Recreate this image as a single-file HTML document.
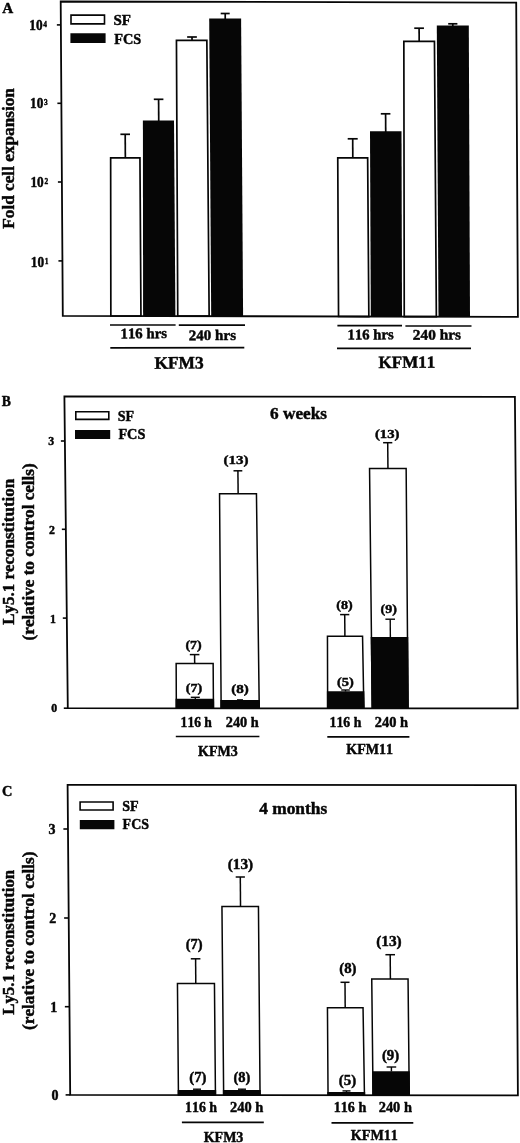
<!DOCTYPE html>
<html lang="en">
<head>
<meta charset="utf-8">
<title>Figure: fold cell expansion and Ly5.1 reconstitution</title>
<style>
html,body{margin:0;padding:0;background:#fff;}
body{width:520px;height:1143px;overflow:hidden;}
svg{display:block;}
svg text{font-kerning:none;stroke:#060606;stroke-width:.45px;stroke-linejoin:round;}
</style>
</head>
<body>
<svg width="520" height="1143" viewBox="0 0 520 1143" font-family='"Liberation Serif", "DejaVu Serif", serif' fill="#060606">
<rect x="0" y="0" width="520" height="1143" fill="#fff"/>
<line x1="125.2" y1="134.3" x2="125.35" y2="158" stroke="#060606" stroke-width="1.7" stroke-linecap="butt"/>
<line x1="120.4" y1="134.3" x2="130" y2="134.3" stroke="#060606" stroke-width="1.7" stroke-linecap="butt"/>
<line x1="158.6" y1="99.3" x2="158.74" y2="121" stroke="#060606" stroke-width="1.7" stroke-linecap="butt"/>
<line x1="153.8" y1="99.3" x2="163.4" y2="99.3" stroke="#060606" stroke-width="1.7" stroke-linecap="butt"/>
<line x1="192" y1="37" x2="192.02" y2="40.5" stroke="#060606" stroke-width="1.7" stroke-linecap="butt"/>
<line x1="187.15" y1="37" x2="196.85" y2="37" stroke="#060606" stroke-width="1.7" stroke-linecap="butt"/>
<line x1="225.2" y1="13.5" x2="225.23" y2="19" stroke="#060606" stroke-width="1.7" stroke-linecap="butt"/>
<line x1="220.7" y1="13.5" x2="229.7" y2="13.5" stroke="#060606" stroke-width="1.7" stroke-linecap="butt"/>
<line x1="352.7" y1="138.8" x2="352.81" y2="158" stroke="#060606" stroke-width="1.7" stroke-linecap="butt"/>
<line x1="347.7" y1="138.8" x2="357.7" y2="138.8" stroke="#060606" stroke-width="1.7" stroke-linecap="butt"/>
<line x1="385.6" y1="113.8" x2="385.71" y2="132" stroke="#060606" stroke-width="1.7" stroke-linecap="butt"/>
<line x1="380.8" y1="113.8" x2="390.4" y2="113.8" stroke="#060606" stroke-width="1.7" stroke-linecap="butt"/>
<line x1="419.1" y1="28.2" x2="419.18" y2="41.5" stroke="#060606" stroke-width="1.7" stroke-linecap="butt"/>
<line x1="414.25" y1="28.2" x2="423.95" y2="28.2" stroke="#060606" stroke-width="1.7" stroke-linecap="butt"/>
<line x1="452.8" y1="23.8" x2="452.81" y2="26" stroke="#060606" stroke-width="1.7" stroke-linecap="butt"/>
<line x1="448.2" y1="23.8" x2="457.4" y2="23.8" stroke="#060606" stroke-width="1.7" stroke-linecap="butt"/>
<polygon points="110.65,157.85 139.95,157.85 140.95,315.99 110.85,315.91" fill="#fff" stroke="#060606" stroke-width="1.7" stroke-linejoin="miter"/>
<polygon points="142.9,120.4 174,120.4 175.4,316.07 143.1,315.99" fill="#060606" stroke="none" stroke-width="0" stroke-linejoin="miter"/>
<polygon points="176.45,40.45 206.85,40.45 209.15,316.16 177.75,316.08" fill="#fff" stroke="#060606" stroke-width="1.7" stroke-linejoin="miter"/>
<polygon points="209.2,18.5 241.1,18.5 243.1,316.24 211.2,316.16" fill="#060606" stroke="none" stroke-width="0" stroke-linejoin="miter"/>
<polygon points="337.75,157.85 367.65,157.85 368.85,316.54 338.55,316.46" fill="#fff" stroke="#060606" stroke-width="1.7" stroke-linejoin="miter"/>
<polygon points="370,131.2 401.5,131.2 402,316.62 370.8,316.54" fill="#060606" stroke="none" stroke-width="0" stroke-linejoin="miter"/>
<polygon points="403.85,41.35 434.45,41.35 436.35,316.7 404.25,316.62" fill="#fff" stroke="#060606" stroke-width="1.7" stroke-linejoin="miter"/>
<polygon points="436.8,25.4 468.8,25.4 470,316.78 438.5,316.71" fill="#060606" stroke="none" stroke-width="0" stroke-linejoin="miter"/>
<polygon points="60.7,1.5 516.2,2.6 517.9,316.9 62.8,315.8" fill="none" stroke="#060606" stroke-width="1.8" stroke-linejoin="miter"/>
<line x1="56.86" y1="24.9" x2="60.86" y2="24.9" stroke="#060606" stroke-width="1.6" stroke-linecap="butt"/>
<line x1="57.38" y1="103.3" x2="61.38" y2="103.3" stroke="#060606" stroke-width="1.6" stroke-linecap="butt"/>
<line x1="57.91" y1="182" x2="61.91" y2="182" stroke="#060606" stroke-width="1.6" stroke-linecap="butt"/>
<line x1="58.43" y1="260.9" x2="62.43" y2="260.9" stroke="#060606" stroke-width="1.6" stroke-linecap="butt"/>
<text x="29.3" y="29.9" font-size="14" font-weight="bold" text-anchor="start" textLength="13.3" lengthAdjust="spacingAndGlyphs">10</text>
<text x="43.3" y="26.9" font-size="8.6" font-weight="bold" text-anchor="start" textLength="3.7" lengthAdjust="spacingAndGlyphs">4</text>
<text x="30" y="108.4" font-size="14" font-weight="bold" text-anchor="start" textLength="13.3" lengthAdjust="spacingAndGlyphs">10</text>
<text x="44" y="105.4" font-size="8.6" font-weight="bold" text-anchor="start" textLength="3.7" lengthAdjust="spacingAndGlyphs">3</text>
<text x="30.4" y="187.4" font-size="14" font-weight="bold" text-anchor="start" textLength="13.3" lengthAdjust="spacingAndGlyphs">10</text>
<text x="44.4" y="184.4" font-size="8.6" font-weight="bold" text-anchor="start" textLength="3.7" lengthAdjust="spacingAndGlyphs">2</text>
<text x="30.8" y="266.5" font-size="14" font-weight="bold" text-anchor="start" textLength="13.3" lengthAdjust="spacingAndGlyphs">10</text>
<text x="44.8" y="263.5" font-size="8.6" font-weight="bold" text-anchor="start" textLength="3.7" lengthAdjust="spacingAndGlyphs">1</text>
<polygon points="71,15.1 104.5,15.1 104.5,23.9 71,23.9" fill="#fff" stroke="#060606" stroke-width="1.6" stroke-linejoin="miter"/>
<polygon points="70.4,33.3 105.6,33.3 105.6,43.1 70.4,43.1" fill="#060606" stroke="none" stroke-width="0" stroke-linejoin="miter"/>
<text x="113.4" y="24.8" font-size="15" font-weight="bold" text-anchor="start" textLength="17.5" lengthAdjust="spacingAndGlyphs" transform="rotate(0 113.4 24.8)">SF</text>
<text x="114.2" y="43.5" font-size="15" font-weight="bold" text-anchor="start" textLength="27.1" lengthAdjust="spacingAndGlyphs" transform="rotate(0 114.2 43.5)">FCS</text>
<text x="2.3" y="12.6" font-size="15.2" font-weight="bold" text-anchor="start">A</text>
<text x="14.3" y="228.7" font-size="17.2" font-weight="bold" text-anchor="start" textLength="140.6" lengthAdjust="spacingAndGlyphs" transform="rotate(-90 14.3 228.7)">Fold cell expansion</text>
<line x1="110" y1="325" x2="175.6" y2="325" stroke="#060606" stroke-width="1.7" stroke-linecap="butt"/>
<line x1="178.8" y1="325.2" x2="245" y2="325.2" stroke="#060606" stroke-width="1.7" stroke-linecap="butt"/>
<text x="120.6" y="338.4" font-size="14.8" font-weight="bold" text-anchor="start" textLength="46.4" lengthAdjust="spacingAndGlyphs" transform="rotate(-0.4 120.6 338.4)">116 hrs</text>
<text x="188.8" y="340.2" font-size="14.8" font-weight="bold" text-anchor="start" textLength="47.2" lengthAdjust="spacingAndGlyphs" transform="rotate(-0.4 188.8 340.2)">240 hrs</text>
<line x1="110.3" y1="347.9" x2="244.3" y2="347.7" stroke="#060606" stroke-width="1.7" stroke-linecap="butt"/>
<text x="154.4" y="368.7" font-size="17.4" font-weight="bold" text-anchor="start" textLength="49.4" lengthAdjust="spacingAndGlyphs" transform="rotate(-0.4 154.4 368.7)">KFM3</text>
<line x1="337.4" y1="325.6" x2="402" y2="325.6" stroke="#060606" stroke-width="1.7" stroke-linecap="butt"/>
<line x1="405.4" y1="326" x2="471.5" y2="326" stroke="#060606" stroke-width="1.7" stroke-linecap="butt"/>
<text x="347.6" y="339.6" font-size="14.8" font-weight="bold" text-anchor="start" textLength="46" lengthAdjust="spacingAndGlyphs" transform="rotate(-0.4 347.6 339.6)">116 hrs</text>
<text x="412.8" y="339.8" font-size="14.8" font-weight="bold" text-anchor="start" textLength="48.2" lengthAdjust="spacingAndGlyphs" transform="rotate(-0.4 412.8 339.8)">240 hrs</text>
<line x1="337" y1="348.4" x2="471" y2="348.4" stroke="#060606" stroke-width="1.7" stroke-linecap="butt"/>
<text x="378.5" y="368" font-size="17.2" font-weight="bold" text-anchor="start" textLength="56.7" lengthAdjust="spacingAndGlyphs" transform="rotate(-0.4 378.5 368)">KFM11</text>
<line x1="194.6" y1="654.6" x2="194.69" y2="663.5" stroke="#060606" stroke-width="1.5" stroke-linecap="butt"/>
<line x1="189.8" y1="654.6" x2="199.4" y2="654.6" stroke="#060606" stroke-width="1.5" stroke-linecap="butt"/>
<line x1="237.9" y1="470.8" x2="238.14" y2="494" stroke="#060606" stroke-width="1.5" stroke-linecap="butt"/>
<line x1="233.5" y1="470.8" x2="242.3" y2="470.8" stroke="#060606" stroke-width="1.5" stroke-linecap="butt"/>
<line x1="344.7" y1="614.6" x2="344.91" y2="636.2" stroke="#060606" stroke-width="1.5" stroke-linecap="butt"/>
<line x1="340.1" y1="614.6" x2="349.3" y2="614.6" stroke="#060606" stroke-width="1.5" stroke-linecap="butt"/>
<line x1="387.7" y1="442.7" x2="387.95" y2="468.5" stroke="#060606" stroke-width="1.5" stroke-linecap="butt"/>
<line x1="383.1" y1="442.7" x2="392.3" y2="442.7" stroke="#060606" stroke-width="1.5" stroke-linecap="butt"/>
<polygon points="176.15,663.45 213.15,663.45 213.45,708.27 176.35,708.25" fill="#fff" stroke="#060606" stroke-width="1.5" stroke-linejoin="miter"/>
<polygon points="175.56,698.7 214.14,698.7 214.2,708.27 175.6,708.25" fill="#060606" stroke="none" stroke-width="0" stroke-linejoin="miter"/>
<polygon points="219.55,493.85 256.45,493.85 259.25,708.29 221.15,708.27" fill="#fff" stroke="#060606" stroke-width="1.5" stroke-linejoin="miter"/>
<polygon points="220.34,700 259.89,700 260,708.29 220.4,708.27" fill="#060606" stroke="none" stroke-width="0" stroke-linejoin="miter"/>
<polygon points="327.45,636.15 362.55,636.15 363.85,708.33 327.65,708.32" fill="#fff" stroke="#060606" stroke-width="1.5" stroke-linejoin="miter"/>
<polygon points="326.85,691.3 364.3,691.3 364.6,708.33 326.9,708.32" fill="#060606" stroke="none" stroke-width="0" stroke-linejoin="miter"/>
<polygon points="369.55,468.45 406.15,468.45 408.05,708.35 372.25,708.34" fill="#fff" stroke="#060606" stroke-width="1.5" stroke-linejoin="miter"/>
<polygon points="370.7,636.9 408.24,636.9 408.8,708.35 371.5,708.34" fill="#060606" stroke="none" stroke-width="0" stroke-linejoin="miter"/>
<line x1="195.3" y1="697.3" x2="195.32" y2="699" stroke="#060606" stroke-width="1.4" stroke-linecap="butt"/>
<line x1="190.8" y1="697.3" x2="199.8" y2="697.3" stroke="#060606" stroke-width="1.4" stroke-linecap="butt"/>
<line x1="240" y1="699.9" x2="240" y2="700.3" stroke="#060606" stroke-width="1.4" stroke-linecap="butt"/>
<line x1="237" y1="699.9" x2="243" y2="699.9" stroke="#060606" stroke-width="1.4" stroke-linecap="butt"/>
<line x1="345.5" y1="690" x2="345.52" y2="691.6" stroke="#060606" stroke-width="1.4" stroke-linecap="butt"/>
<line x1="341.2" y1="690" x2="349.8" y2="690" stroke="#060606" stroke-width="1.4" stroke-linecap="butt"/>
<line x1="390.2" y1="619.2" x2="390.37" y2="637.2" stroke="#060606" stroke-width="1.4" stroke-linecap="butt"/>
<line x1="385.4" y1="619.2" x2="395" y2="619.2" stroke="#060606" stroke-width="1.4" stroke-linecap="butt"/>
<polygon points="64.4,396.4 514.9,396.8 517.7,708.4 67.8,708.2" fill="none" stroke="#060606" stroke-width="1.8" stroke-linejoin="miter"/>
<line x1="60.89" y1="441" x2="64.89" y2="441" stroke="#060606" stroke-width="1.6" stroke-linecap="butt"/>
<text x="51.2" y="444.9" font-size="11.8" font-weight="bold" text-anchor="middle">3</text>
<line x1="61.85" y1="529.3" x2="65.85" y2="529.3" stroke="#060606" stroke-width="1.6" stroke-linecap="butt"/>
<text x="51.9" y="534.1" font-size="11.8" font-weight="bold" text-anchor="middle">2</text>
<line x1="62.82" y1="618.1" x2="66.82" y2="618.1" stroke="#060606" stroke-width="1.6" stroke-linecap="butt"/>
<text x="52.9" y="622.7" font-size="11.8" font-weight="bold" text-anchor="middle">1</text>
<line x1="63.8" y1="708.2" x2="67.8" y2="708.2" stroke="#060606" stroke-width="1.6" stroke-linecap="butt"/>
<text x="54.2" y="712.1" font-size="11.8" font-weight="bold" text-anchor="middle">0</text>
<polygon points="75.8,411.8 108.8,411.8 108.8,419.4 75.8,419.4" fill="#fff" stroke="#060606" stroke-width="1.6" stroke-linejoin="miter"/>
<polygon points="75,429.9 110.2,429.9 110.2,439.1 75,439.1" fill="#060606" stroke="none" stroke-width="0" stroke-linejoin="miter"/>
<text x="117.8" y="420.7" font-size="14.6" font-weight="bold" text-anchor="start" textLength="16.4" lengthAdjust="spacingAndGlyphs" transform="rotate(0 117.8 420.7)">SF</text>
<text x="118.4" y="439" font-size="14.6" font-weight="bold" text-anchor="start" textLength="27" lengthAdjust="spacingAndGlyphs" transform="rotate(0 118.4 439)">FCS</text>
<text x="1.7" y="406.2" font-size="14.8" font-weight="bold" text-anchor="start" textLength="9.1" lengthAdjust="spacingAndGlyphs">B</text>
<text x="270" y="418.8" font-size="17.2" font-weight="bold" text-anchor="start" textLength="57" lengthAdjust="spacingAndGlyphs" transform="rotate(0 270 418.8)">6 weeks</text>
<text x="13.8" y="624.8" font-size="16.6" font-weight="bold" text-anchor="start" textLength="146" lengthAdjust="spacingAndGlyphs" transform="rotate(-90 13.8 624.8)">Ly5.1 reconstitution</text>
<text x="34.3" y="640.4" font-size="16.6" font-weight="bold" text-anchor="start" textLength="177.1" lengthAdjust="spacingAndGlyphs" transform="rotate(-90 34.3 640.4)">(relative to control cells)</text>
<text x="185.4" y="649" font-size="13.2" font-weight="bold" text-anchor="start" textLength="16.3" lengthAdjust="spacingAndGlyphs" transform="rotate(0 185.4 649)">(7)</text>
<text x="185.8" y="692.3" font-size="13.2" font-weight="bold" text-anchor="start" textLength="16.5" lengthAdjust="spacingAndGlyphs" transform="rotate(0 185.8 692.3)">(7)</text>
<text x="231.2" y="692.9" font-size="13.2" font-weight="bold" text-anchor="start" textLength="17.6" lengthAdjust="spacingAndGlyphs" transform="rotate(0 231.2 692.9)">(8)</text>
<text x="223.4" y="464" font-size="13.2" font-weight="bold" text-anchor="start" textLength="25.1" lengthAdjust="spacingAndGlyphs" transform="rotate(0 223.4 464)">(13)</text>
<text x="336.3" y="609.3" font-size="13.2" font-weight="bold" text-anchor="start" textLength="16.4" lengthAdjust="spacingAndGlyphs" transform="rotate(0 336.3 609.3)">(8)</text>
<text x="336.9" y="686.2" font-size="13.2" font-weight="bold" text-anchor="start" textLength="16.8" lengthAdjust="spacingAndGlyphs" transform="rotate(0 336.9 686.2)">(5)</text>
<text x="380.6" y="613.2" font-size="13.2" font-weight="bold" text-anchor="start" textLength="16.4" lengthAdjust="spacingAndGlyphs" transform="rotate(0 380.6 613.2)">(9)</text>
<text x="374.9" y="438.4" font-size="13.2" font-weight="bold" text-anchor="start" textLength="24.6" lengthAdjust="spacingAndGlyphs" transform="rotate(0 374.9 438.4)">(13)</text>
<text x="180.6" y="726.9" font-size="14.4" font-weight="bold" text-anchor="start" textLength="31.3" lengthAdjust="spacingAndGlyphs" transform="rotate(0 180.6 726.9)">116 h</text>
<text x="225.8" y="726.9" font-size="14.4" font-weight="bold" text-anchor="start" textLength="33" lengthAdjust="spacingAndGlyphs" transform="rotate(0 225.8 726.9)">240 h</text>
<line x1="175.8" y1="736.5" x2="259.4" y2="736.5" stroke="#060606" stroke-width="1.7" stroke-linecap="butt"/>
<text x="198.1" y="756.3" font-size="14.5" font-weight="bold" text-anchor="start" textLength="39.8" lengthAdjust="spacingAndGlyphs" transform="rotate(0 198.1 756.3)">KFM3</text>
<text x="329.6" y="726.9" font-size="14.4" font-weight="bold" text-anchor="start" textLength="31.7" lengthAdjust="spacingAndGlyphs" transform="rotate(0 329.6 726.9)">116 h</text>
<text x="374.8" y="726.9" font-size="14.4" font-weight="bold" text-anchor="start" textLength="33.3" lengthAdjust="spacingAndGlyphs" transform="rotate(0 374.8 726.9)">240 h</text>
<line x1="327.3" y1="736.9" x2="409.4" y2="736.9" stroke="#060606" stroke-width="1.7" stroke-linecap="butt"/>
<text x="346.3" y="753.6" font-size="14.5" font-weight="bold" text-anchor="start" textLength="46.8" lengthAdjust="spacingAndGlyphs" transform="rotate(0 346.3 753.6)">KFM11</text>
<line x1="195.6" y1="958.8" x2="195.8" y2="983.5" stroke="#060606" stroke-width="1.5" stroke-linecap="butt"/>
<line x1="190.8" y1="958.8" x2="200.4" y2="958.8" stroke="#060606" stroke-width="1.5" stroke-linecap="butt"/>
<line x1="240.3" y1="877" x2="240.53" y2="906.5" stroke="#060606" stroke-width="1.5" stroke-linecap="butt"/>
<line x1="235.7" y1="877" x2="244.9" y2="877" stroke="#060606" stroke-width="1.5" stroke-linecap="butt"/>
<line x1="345" y1="982.3" x2="345.19" y2="1008" stroke="#060606" stroke-width="1.5" stroke-linecap="butt"/>
<line x1="340.5" y1="982.3" x2="349.5" y2="982.3" stroke="#060606" stroke-width="1.5" stroke-linecap="butt"/>
<line x1="390.2" y1="954.7" x2="390.38" y2="979" stroke="#060606" stroke-width="1.5" stroke-linecap="butt"/>
<line x1="385.4" y1="954.7" x2="395" y2="954.7" stroke="#060606" stroke-width="1.5" stroke-linecap="butt"/>
<polygon points="177.45,983.45 214.45,983.45 215.45,1095.06 178.45,1095.02" fill="#fff" stroke="#060606" stroke-width="1.5" stroke-linejoin="miter"/>
<polygon points="177.66,1090 216.16,1090 216.2,1095.06 177.7,1095.02" fill="#060606" stroke="none" stroke-width="0" stroke-linejoin="miter"/>
<polygon points="221.95,906.45 258.45,906.45 260.05,1095.11 223.65,1095.07" fill="#fff" stroke="#060606" stroke-width="1.5" stroke-linejoin="miter"/>
<polygon points="222.85,1090 260.76,1090 260.8,1095.11 222.9,1095.07" fill="#060606" stroke="none" stroke-width="0" stroke-linejoin="miter"/>
<polygon points="327.45,1007.85 363.05,1007.85 364.45,1095.23 328.05,1095.19" fill="#fff" stroke="#060606" stroke-width="1.5" stroke-linejoin="miter"/>
<polygon points="327.28,1091.9 365.15,1091.9 365.2,1095.23 327.3,1095.19" fill="#060606" stroke="none" stroke-width="0" stroke-linejoin="miter"/>
<polygon points="371.75,979.05 408.05,979.05 409.25,1095.28 373.05,1095.24" fill="#fff" stroke="#060606" stroke-width="1.5" stroke-linejoin="miter"/>
<polygon points="372.03,1071.3 409.75,1071.3 410,1095.28 372.3,1095.24" fill="#060606" stroke="none" stroke-width="0" stroke-linejoin="miter"/>
<line x1="197" y1="1089.2" x2="197.01" y2="1090.2" stroke="#060606" stroke-width="1.4" stroke-linecap="butt"/>
<line x1="193" y1="1089.2" x2="201" y2="1089.2" stroke="#060606" stroke-width="1.4" stroke-linecap="butt"/>
<line x1="242" y1="1089.2" x2="242.01" y2="1090.2" stroke="#060606" stroke-width="1.4" stroke-linecap="butt"/>
<line x1="238" y1="1089.2" x2="246" y2="1089.2" stroke="#060606" stroke-width="1.4" stroke-linecap="butt"/>
<line x1="346.5" y1="1090.9" x2="346.51" y2="1092" stroke="#060606" stroke-width="1.4" stroke-linecap="butt"/>
<line x1="342.5" y1="1090.9" x2="350.5" y2="1090.9" stroke="#060606" stroke-width="1.4" stroke-linecap="butt"/>
<line x1="391.4" y1="1067" x2="391.43" y2="1071.6" stroke="#060606" stroke-width="1.4" stroke-linecap="butt"/>
<line x1="386.6" y1="1067" x2="396.2" y2="1067" stroke="#060606" stroke-width="1.4" stroke-linecap="butt"/>
<polygon points="67.6,784.8 515.8,785.2 517.9,1095.4 70.2,1094.9" fill="none" stroke="#060606" stroke-width="1.8" stroke-linejoin="miter"/>
<line x1="63.37" y1="829" x2="67.97" y2="829" stroke="#060606" stroke-width="1.6" stroke-linecap="butt"/>
<text x="52" y="833.8" font-size="14" font-weight="bold" text-anchor="middle">3</text>
<line x1="64.12" y1="918" x2="68.72" y2="918" stroke="#060606" stroke-width="1.6" stroke-linecap="butt"/>
<text x="52.8" y="922.7" font-size="14" font-weight="bold" text-anchor="middle">2</text>
<line x1="64.86" y1="1006.7" x2="69.46" y2="1006.7" stroke="#060606" stroke-width="1.6" stroke-linecap="butt"/>
<text x="53.8" y="1012.2" font-size="14" font-weight="bold" text-anchor="middle">1</text>
<line x1="65.6" y1="1094.9" x2="70.2" y2="1094.9" stroke="#060606" stroke-width="1.6" stroke-linecap="butt"/>
<text x="54.9" y="1099.9" font-size="14" font-weight="bold" text-anchor="middle">0</text>
<polygon points="80.1,802 113.1,802 113.1,810 80.1,810" fill="#fff" stroke="#060606" stroke-width="1.6" stroke-linejoin="miter"/>
<polygon points="79.8,819.9 114.4,819.9 114.4,829.3 79.8,829.3" fill="#060606" stroke="none" stroke-width="0" stroke-linejoin="miter"/>
<text x="122.2" y="811" font-size="14.6" font-weight="bold" text-anchor="start" textLength="16.4" lengthAdjust="spacingAndGlyphs" transform="rotate(0 122.2 811)">SF</text>
<text x="122.6" y="829.3" font-size="14.6" font-weight="bold" text-anchor="start" textLength="26.4" lengthAdjust="spacingAndGlyphs" transform="rotate(0 122.6 829.3)">FCS</text>
<text x="1.9" y="795.9" font-size="15" font-weight="bold" text-anchor="start" textLength="10.4" lengthAdjust="spacingAndGlyphs">C</text>
<text x="259.2" y="813.6" font-size="17.2" font-weight="bold" text-anchor="start" textLength="68" lengthAdjust="spacingAndGlyphs" transform="rotate(0 259.2 813.6)">4 months</text>
<text x="14" y="1014.8" font-size="16.6" font-weight="bold" text-anchor="start" textLength="145" lengthAdjust="spacingAndGlyphs" transform="rotate(-90 14 1014.8)">Ly5.1 reconstitution</text>
<text x="34.4" y="1030" font-size="16.6" font-weight="bold" text-anchor="start" textLength="178.5" lengthAdjust="spacingAndGlyphs" transform="rotate(-90 34.4 1030)">(relative to control cells)</text>
<text x="185.8" y="948.7" font-size="14.4" font-weight="bold" text-anchor="start" textLength="16.9" lengthAdjust="spacingAndGlyphs" transform="rotate(0 185.8 948.7)">(7)</text>
<text x="189.2" y="1081.7" font-size="14.4" font-weight="bold" text-anchor="start" textLength="17.3" lengthAdjust="spacingAndGlyphs" transform="rotate(0 189.2 1081.7)">(7)</text>
<text x="233.5" y="1081.7" font-size="14.4" font-weight="bold" text-anchor="start" textLength="16.9" lengthAdjust="spacingAndGlyphs" transform="rotate(0 233.5 1081.7)">(8)</text>
<text x="227.7" y="869.2" font-size="14.4" font-weight="bold" text-anchor="start" textLength="25.4" lengthAdjust="spacingAndGlyphs" transform="rotate(0 227.7 869.2)">(13)</text>
<text x="339.2" y="973.1" font-size="14.4" font-weight="bold" text-anchor="start" textLength="17.3" lengthAdjust="spacingAndGlyphs" transform="rotate(0 339.2 973.1)">(8)</text>
<text x="338.8" y="1084.8" font-size="14.4" font-weight="bold" text-anchor="start" textLength="17.4" lengthAdjust="spacingAndGlyphs" transform="rotate(0 338.8 1084.8)">(5)</text>
<text x="376.2" y="946.2" font-size="14.4" font-weight="bold" text-anchor="start" textLength="25.5" lengthAdjust="spacingAndGlyphs" transform="rotate(0 376.2 946.2)">(13)</text>
<text x="381.9" y="1060.4" font-size="14.4" font-weight="bold" text-anchor="start" textLength="17.3" lengthAdjust="spacingAndGlyphs" transform="rotate(0 381.9 1060.4)">(9)</text>
<text x="185" y="1111.8" font-size="14.4" font-weight="bold" text-anchor="start" textLength="32.1" lengthAdjust="spacingAndGlyphs" transform="rotate(0 185 1111.8)">116 h</text>
<text x="230" y="1111.8" font-size="14.4" font-weight="bold" text-anchor="start" textLength="33.3" lengthAdjust="spacingAndGlyphs" transform="rotate(0 230 1111.8)">240 h</text>
<line x1="181.9" y1="1122.3" x2="263.8" y2="1122.3" stroke="#060606" stroke-width="1.7" stroke-linecap="butt"/>
<text x="203.7" y="1141.8" font-size="14.5" font-weight="bold" text-anchor="start" textLength="39.7" lengthAdjust="spacingAndGlyphs" transform="rotate(0 203.7 1141.8)">KFM3</text>
<text x="333.8" y="1112" font-size="14.4" font-weight="bold" text-anchor="start" textLength="32.4" lengthAdjust="spacingAndGlyphs" transform="rotate(0 333.8 1112)">116 h</text>
<text x="378.7" y="1112" font-size="14.4" font-weight="bold" text-anchor="start" textLength="33.2" lengthAdjust="spacingAndGlyphs" transform="rotate(0 378.7 1112)">240 h</text>
<line x1="331.5" y1="1122.8" x2="413.3" y2="1122.8" stroke="#060606" stroke-width="1.7" stroke-linecap="butt"/>
<text x="350.8" y="1139.5" font-size="14.5" font-weight="bold" text-anchor="start" textLength="47.1" lengthAdjust="spacingAndGlyphs" transform="rotate(0 350.8 1139.5)">KFM11</text>
</svg>
</body>
</html>
